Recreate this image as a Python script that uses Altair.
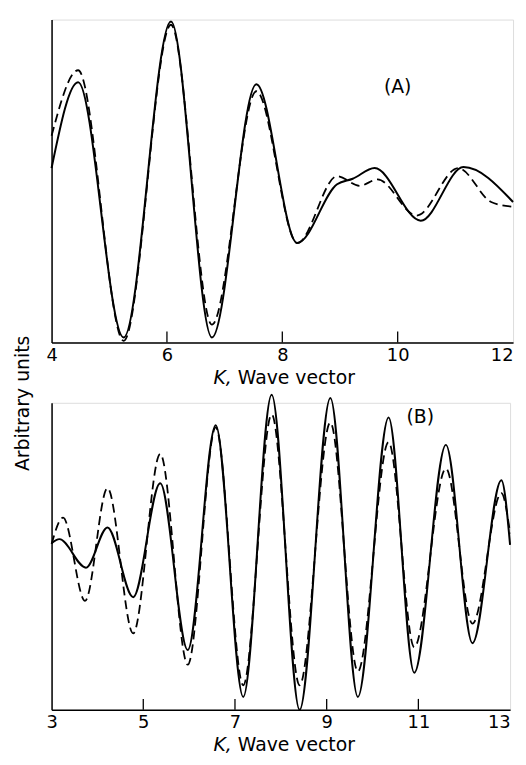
import altair as alt
import pandas as pd

# ---------------- data ----------------
# Panel (A): K from 4 to 12
a_solid_k = [4.0, 4.46, 5.25, 6.07, 6.78, 7.55, 8.26, 8.95, 9.22, 9.6, 10.40, 11.14, 12.0]
a_solid_v = [54.0, 80.6, 1.5, 99.4, 1.5, 80.0, 30.8, 49.0, 50.7, 54.0, 37.7, 54.3, 43.5]
a_dash_k = [4.0, 4.46, 5.25, 6.07, 6.78, 7.55, 8.26, 8.95, 9.34, 9.65, 10.33, 11.05, 11.62, 12.0]
a_dash_v = [64.0, 84.3, 0.5, 98.4, 5.5, 77.8, 30.8, 51.5, 48.5, 50.5, 39.3, 54.0, 43.5, 42.0]
a_ticks = [6, 8, 10]
a_labels = [4, 6, 8, 10, 12]

# Panel (B): K from 3 to 13
b_solid_k = [3.0, 3.17, 3.75, 4.22, 4.78, 5.37, 5.97, 6.58, 7.18, 7.8, 8.41, 9.08, 9.68,
             10.35, 10.91, 11.6, 12.18, 12.81, 13.0]
b_solid_v = [54.3, 55.6, 46.3, 59.4, 36.7, 73.8, 19.5, 92.7, 4.2, 102.6, 0.0, 101.6, 4.2,
             95.2, 12.1, 86.3, 21.7, 74.8, 53.7]
b_dash_k = [3.0, 3.25, 3.73, 4.22, 4.78, 5.37, 5.97, 6.58, 7.18, 7.8, 8.41, 9.08, 9.68,
            10.35, 10.91, 11.6, 12.18, 12.81, 13.0]
b_dash_v = [54.0, 62.6, 35.5, 72.2, 24.9, 83.4, 14.7, 92.0, 8.0, 96.2, 8.0, 93.6, 12.5,
            87.2, 20.4, 78.6, 28.1, 70.6, 57.5]
b_ticks = [5, 7, 9, 11]
b_labels = [3, 5, 7, 9, 11, 13]

FONT = "DejaVu Sans"
FS = 19
LFS = 18
A_W, A_H = 466, 326
B_W, B_H = 463, 310


def panel(sk, sv, dk, dv, ticks, labels, xdom, tag, tag_k, tag_v, w, h, ytitle):
    xs = alt.Scale(domain=xdom, nice=False, zero=False)
    ys = alt.Scale(domain=[0, 100], nice=False, zero=False)
    last = labels[-1]
    xaxis = alt.Axis(values=labels, format="d", labelFont=FONT, labelFontSize=LFS,
                     labelColor="black", labelPadding=4, labelFlush=False,
                     labelAlign={"condition": {"test": f"datum.value == {last}",
                                               "value": "right"},
                                 "value": "center"},
                     ticks=False, tickSize=0, grid=False, domainColor="black",
                     domainWidth=1.5, title=None)
    if ytitle:
        yaxis = alt.Axis(labels=False, ticks=False, grid=False, domainColor="black",
                         domainWidth=1.5, title=ytitle, titleFont=FONT,
                         titleFontSize=FS, titleFontWeight="normal", titleColor="black",
                         titleAngle=270, titleX=-23, titleY=387, titleAlign="center",
                         titleBaseline="alphabetic")
    else:
        yaxis = alt.Axis(labels=False, ticks=False, grid=False, domainColor="black",
                         domainWidth=1.5, title=None)

    solid = alt.Chart(pd.DataFrame({"k": sk, "v": sv})).mark_line(
        color="black", strokeWidth=2, interpolate="monotone", clip=False
    ).encode(x=alt.X("k:Q", scale=xs, axis=xaxis), y=alt.Y("v:Q", scale=ys, axis=yaxis))

    dashed = alt.Chart(pd.DataFrame({"k": dk, "v": dv})).mark_line(
        color="black", strokeWidth=1.8, strokeDash=[9, 5], interpolate="monotone", clip=False
    ).encode(x=alt.X("k:Q", scale=xs), y=alt.Y("v:Q", scale=ys))

    tick_rules = alt.Chart(pd.DataFrame({"k": ticks})).mark_rule(
        color="black", strokeWidth=1.3
    ).encode(x=alt.X("k:Q", scale=xs), y=alt.value(h), y2=alt.value(h - 11))

    tag_text = alt.Chart(pd.DataFrame({"k": [tag_k], "v": [tag_v], "t": [tag]})).mark_text(
        font=FONT, fontSize=FS, color="black", align="center", baseline="middle"
    ).encode(x=alt.X("k:Q", scale=xs), y=alt.Y("v:Q", scale=ys), text="t:N")

    k_text = alt.Chart(pd.DataFrame({"t": ["K,"]})).mark_text(
        font=FONT, fontSize=FS, fontStyle="italic", color="black",
        align="right", baseline="alphabetic"
    ).encode(x=alt.value(182), y=alt.value(h + 42), text="t:N")

    wv_text = alt.Chart(pd.DataFrame({"t": ["Wave vector"]})).mark_text(
        font=FONT, fontSize=FS, color="black", align="left", baseline="alphabetic"
    ).encode(x=alt.value(188), y=alt.value(h + 42), text="t:N")

    return alt.layer(solid, dashed, tick_rules, tag_text, k_text, wv_text).properties(
        width=w, height=h
    )


chart_a = panel(a_solid_k, a_solid_v, a_dash_k, a_dash_v, a_ticks, a_labels, [4, 12],
                "(A)", 10.0, 79, A_W, A_H, "Arbitrary  units")
chart_b = panel(b_solid_k, b_solid_v, b_dash_k, b_dash_v, b_ticks, b_labels, [3, 13],
                "(B)", 11.04, 95.2, B_W, B_H, None)

chart = alt.vconcat(
    chart_a, chart_b, spacing=61, bounds="flush",
    padding={"left": 5, "top": 5, "right": 0, "bottom": 0}
).resolve_scale(
    x="independent", y="independent"
).configure_view(stroke=None).configure(background="white")

chart.save("out.html", embed_options={"renderer": "svg", "actions": False})
